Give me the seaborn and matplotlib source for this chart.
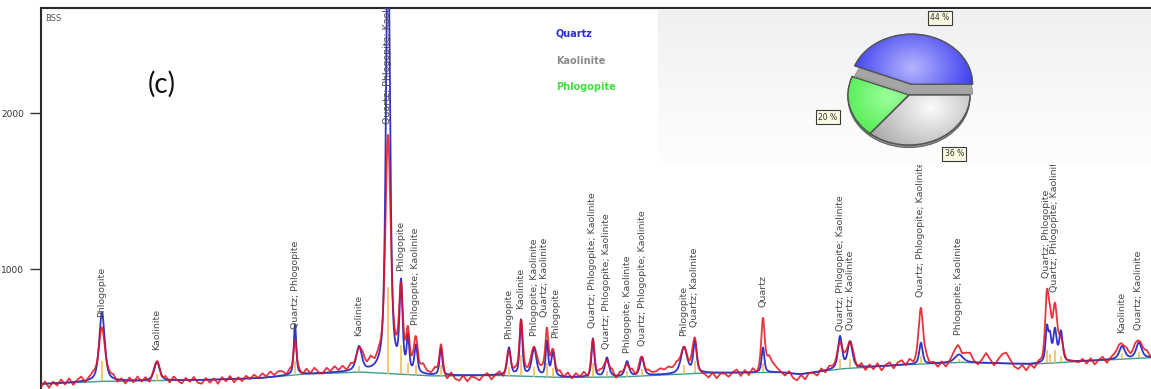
import numpy as np
import pandas as pd
import matplotlib
matplotlib.use("Agg")
import matplotlib.pyplot as plt
from matplotlib.colors import LinearSegmentedColormap
from matplotlib.patches import PathPatch
import seaborn as sns

# ---------------------------------------------------------------- data
# indexed reflections: position (deg 2-theta), calculated and observed heights
# above background (counts), and FWHM (deg)
peak_pos = [8.79, 12.21, 20.79, 24.77, 26.57, 27.38, 27.81, 28.31, 29.86,
            34.09, 34.84, 35.65, 36.45, 36.83, 39.31, 40.18, 41.43, 42.36,
            44.97, 45.65, 49.88, 54.67, 55.29, 59.70, 62.06, 67.53, 67.72,
            68.03, 68.40, 72.20, 73.25]
calc_height = [444, 119, 323, 154, 2900, 548, 215, 175, 176,
               176, 355, 176, 220, 155, 246, 122, 96, 118,
               170, 200, 159, 204, 167, 136, 50, 214, 150,
               200, 190, 82, 100]
obs_height = [320, 100, 220, 96, 1380, 470, 185, 160, 195,
              145, 340, 152, 285, 140, 220, 100, 90, 115,
              138, 215, 319, 153, 148, 347, 70, 374, 200,
              310, 100, 85, 100]
peak_fwhm = [0.40, 0.40, 0.18, 0.40, 0.30, 0.22, 0.18, 0.22, 0.20,
             0.25, 0.20, 0.35, 0.18, 0.25, 0.20, 0.30, 0.30, 0.30,
             0.45, 0.25, 0.20, 0.30, 0.35, 0.25, 0.60, 0.20, 0.20,
             0.25, 0.25, 0.40, 0.40]
peak_label = ["Phlogopite", "Kaolinite", "Quartz; Phlogopite", "Kaolinite",
              "Quartz; Phlogopite; Kaolinite", "Phlogopite", "",
              "Phlogopite; Kaolinite", "",
              "Phlogopite", "Kaolinite", "Phlogopite; Kaolinite",
              "Quartz; Kaolinite", "Phlogopite",
              "Quartz; Phlogopite; Kaolinite", "Quartz; Phlogopite; Kaolinite",
              "Phlogopite; Kaolinite", "Quartz; Phlogopite; Kaolinite",
              "Phlogopite", "Quartz; Kaolinite", "Quartz",
              "Quartz; Phlogopite; Kaolinite", "Quartz; Kaolinite",
              "Quartz; Phlogopite; Kaolinite", "Phlogopite; Kaolinite",
              "Quartz; Phlogopite", "", "Quartz; Phlogopite; Kaolinite", "",
              "Kaolinite", "Quartz; Kaolinite"]

# background curve (deg 2-theta, counts)
bg_pos = [5.0, 8.67, 14.9, 18.6, 21.1, 24.8, 29.2, 33.5, 37.3, 41.0,
          46.0, 50.9, 52.2, 54.7, 58.4, 62.1, 66.5, 70.8, 74.0]
bg_counts = [263, 280, 288, 300, 325, 340, 315, 318, 305, 308,
             333, 338, 325, 360, 385, 402, 390, 415, 432]

# observed minus model, read every 0.25 deg from 5.00 to 74.00
resid_start, resid_step = 5.0, 0.25
residual = [
    -20, 14, -28, 10, -16, 22, -12, 26, -18, 12, 30, -10, 20, 38, 4, 30, -6, 16, 28, -14,
    10, -22, 18, -14, 24, -10, 16, -24, 12, 26, -14, 18, -18, 22, -4, -22, 14, -12, 20, -18,
    -24, 12, -20, 8, -28, 14, -14, 20, -22, 10, -16, 18, -4, 24, 0, 30, 6, 36, 10, 32,
    28, 4, 34, -2, 26, -6, 30, 2, 36, 6, -4, 32, 8, 40, 12, 38, 8, 44, 20, 52,
    68, 40, 82, 54, 98, 100, 140, 150, 120, 95, 62, 92, 52, 82, 34, 62, 22, 12, 42, 2,
    4, -30, 14, -24, -36, -2, -40, -10, -16, -34, -2, 12, -30, 0, 18, -22, 22, -4, 30, 4,
    26, 16, 34, 28, 32, 44, 6, 36, 0, 32, -4, 26, -12, 22, -2, 28, -12, 24, 0, 34,
    20, -6, 30, -16, 22, -2, -20, 26, -8, 20, -18, 24, 14, 20, 38, 28, 44, 34, 52, 20,
    30, 0, 34, -20, -12, -16, -36, -2, -38, -6, -8, -28, 2, 18, -24, 14, -20, 22, -10, 20,
    40, 95, 55, 26, 0, -20, 12, -30, -42, -6, -38, 0, -4, -26, 16, -14, 22, 12, 20, 8,
    32, 18, 22, -14, 20, -24, 12, -20, 18, -30, 4, 20, -22, 14, 26, -8, 28, -2, 36, 6,
    38, -6, 2, -30, 4, -34, -2, 28, 42, 0, 34, 52, 6, -14, 20, 62, 22, -16, 24, 58,
    68, 24, -20, -36, -10, -46, -6, -36, 4, 2, 34, 30, 40, 44, 30, -4, 0, -2, -10, 12,
    -20, 14, -28, 0, 18, -24, 10, 26, 36, 4, 32, 12, 42, 8, 18, 34, -4,
]

# phase fractions for the inset pie
phase_names = ["Quartz", "Phlogopite", "Kaolinite"]
phase_pct = [44, 20, 36]
phase_label_text = ["44 %", "20 %", "36 %"]

yticks = [1000, 2000]


# ---------------------------------------------------------------- profile model
def pseudo_voigt(x, c, w, eta=0.6):
    g = np.exp(-4 * np.log(2) * ((x - c) / w) ** 2)
    lor = 1.0 / (1.0 + 4 * ((x - c) / w) ** 2)
    return eta * lor + (1 - eta) * g


two_theta = np.arange(5.0, 74.0001, 0.02)
background = np.interp(two_theta, bg_pos, bg_counts)
calc = background.copy()
obs = background.copy()
for c, hc, ho, w in zip(peak_pos, calc_height, obs_height, peak_fwhm):
    calc += hc * pseudo_voigt(two_theta, c, w)
    obs += ho * pseudo_voigt(two_theta, c, 1.25 * w, eta=0.5)
resid_x = resid_start + resid_step * np.arange(len(residual))
obs += np.interp(two_theta, resid_x, residual)

df = pd.DataFrame({"two_theta": two_theta, "calc": calc, "obs": obs,
                   "background": background})

# ---------------------------------------------------------------- figure
sns.set_theme(style="white")
plt.rcParams["font.family"] = ["DejaVu Sans"]

W, H = 1151, 389
fig = plt.figure(figsize=(W / 100, H / 100), dpi=100)
ax = fig.add_axes([41 / W, 0, 1110 / W, (H - 8) / H])

sns.lineplot(data=df, x="two_theta", y="background", ax=ax, color="#3a9e92",
             lw=1.0, zorder=2, estimator=None, sort=False)
bg_at_peak = np.interp(peak_pos, bg_pos, bg_counts)
stick_top = bg_at_peak + 0.4 * np.minimum(calc_height, obs_height)
ax.vlines(peak_pos, bg_at_peak, stick_top, color="#f2b84b", lw=1.1, zorder=2.5)
sns.lineplot(data=df, x="two_theta", y="calc", ax=ax, color="#3333cc",
             lw=1.3, zorder=3, estimator=None, sort=False)
sns.lineplot(data=df, x="two_theta", y="obs", ax=ax, color="#e3121c",
             lw=1.3, alpha=0.85, zorder=4, estimator=None, sort=False)

ax.set_xlim(5.0, 74.0)
ax.set_ylim(231, 2673)
ax.set_xticks([])
ax.set_yticks(yticks)
ax.set_yticklabels([str(t) for t in yticks])
ax.set_xlabel("")
ax.set_ylabel("")
ax.tick_params(axis="y", direction="out", length=7.8, width=1.0,
               color="#333333", labelsize=6.5, labelcolor="#333333", pad=4.5,
               left=True)
for side in ("bottom", "right"):
    ax.spines[side].set_visible(False)
for side in ("top", "left"):
    ax.spines[side].set_color("#2a2a2a")
    ax.spines[side].set_linewidth(1.5)

# reflection labels, placed above the observed intensity
label_nudge = {12: -2.0, 13: 2.0}
for i, (c, lab) in enumerate(zip(peak_pos, peak_label)):
    if not lab:
        continue
    ytop = np.interp(c, two_theta, obs)
    ax.annotate(lab, xy=(c, ytop), xytext=(label_nudge.get(i, 0), 8),
                textcoords="offset points", rotation=90, ha="center",
                va="bottom", fontsize=6.8, color="#4a4a4a",
                annotation_clip=False, clip_on=True, zorder=5)

ax.text(0.004, 0.985, "BSS", transform=ax.transAxes, fontsize=6,
        color="#555555", ha="left", va="top")
fig.text(162 / W, 1 - 84 / H, "(c)", fontsize=20, color="#111111",
         ha="center", va="center", family=["Lato", "DejaVu Sans"])

# phase legend text
legend_colors = ["#2c2cd4", "#8c8c8c", "#3ee03e"]
legend_order = ["Quartz", "Kaolinite", "Phlogopite"]
for i, (name, col) in enumerate(zip(legend_order, legend_colors)):
    fig.text(556 / W, 1 - (34 + 26.5 * i) / H, name, color=col,
             fontweight="bold", fontsize=7, ha="left", va="center")

# ---------------------------------------------------------------- pie panel
panel = fig.add_axes([658 / W, 1 - 165 / H, (W - 658) / W, 155 / H], zorder=6)
grad = np.linspace(0, 1, 100).reshape(-1, 1)
panel.imshow(grad, aspect="auto", extent=(0, 1, 0, 1), origin="upper",
             cmap=LinearSegmentedColormap.from_list("panel", ["#eef0f2", "#fefefe"]))
panel.set_axis_off()

pie_ax = fig.add_axes([(909 - 91.5) / W, 1 - (95 + 75) / H, 183 / W, 150 / H],
                      zorder=7)
pie_ax.patch.set_alpha(0)
explode = [0.22, 0, 0]
# side wall of the lifted slice
side_wedges, _ = pie_ax.pie(phase_pct, explode=explode,
                            colors=["#a5a5a5", "#a5a5a5", "#a5a5a5"],
                            startangle=0, center=(0, -0.2),
                            wedgeprops=dict(edgecolor="#8a8a8a", linewidth=0.6))
for wdg in side_wedges[1:]:
    wdg.set_visible(False)
# thin rim under the resting slices
rim_wedges, _ = pie_ax.pie(phase_pct, explode=explode,
                           colors=["#a5a5a5", "#2fb02f", "#8e8e8e"],
                           startangle=0, center=(0, -0.05),
                           wedgeprops=dict(edgecolor="#666666", linewidth=0.8))
rim_wedges[0].set_visible(False)
top_wedges, _ = pie_ax.pie(phase_pct, explode=explode,
                           colors=["#4a4af2", "#48ef48", "#cfcfcf"],
                           startangle=0, center=(0, 0),
                           wedgeprops=dict(edgecolor="#555555", linewidth=1.0))
pie_ax.set_aspect("auto")
pie_ax.set_xlim(-1.5, 1.5)
pie_ax.set_ylim(-1.5, 1.5)
pie_ax.set_axis_off()

shades = [("#b4b4ff", "#3535ee", (0.05, 0.55)),
          ("#9bff9b", "#35e535", (-0.35, -0.05)),
          ("#fbfbfb", "#a9a9a9", (0.35, -0.25))]
gx, gy = np.meshgrid(np.linspace(-1.5, 1.5, 240), np.linspace(-1.5, 1.5, 240))
for wedge, (light, dark, focus) in zip(top_wedges, shades):
    t = np.clip(np.hypot(gx - focus[0], gy - focus[1]) / 1.1, 0, 1)
    im = pie_ax.imshow(t, extent=(-1.5, 1.5, -1.5, 1.5), origin="lower",
                       aspect="auto", zorder=wedge.get_zorder() + 0.1,
                       cmap=LinearSegmentedColormap.from_list("s", [light, dark]))
    im.set_clip_path(wedge)
    edge = PathPatch(wedge.get_path(), transform=wedge.get_transform(),
                     fill=False, edgecolor="#555555", lw=1.0,
                     zorder=wedge.get_zorder() + 0.2)
    pie_ax.add_patch(edge)

label_xy = [(0.51, 1.54), (-1.33, -0.44), (0.74, -1.18)]
for txt, (lx, ly) in zip(phase_label_text, label_xy):
    pie_ax.text(lx, ly, txt, fontsize=5.5, color="#333333", ha="center",
                va="center", zorder=10, clip_on=False,
                bbox=dict(boxstyle="square,pad=0.35", fc="#fbfbe2",
                          ec="#3a3a3a", lw=0.8))

fig.savefig("out.png", dpi=100)
